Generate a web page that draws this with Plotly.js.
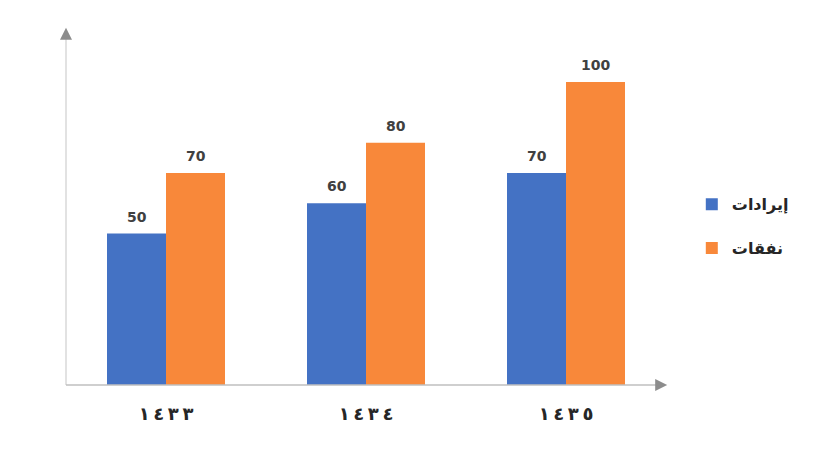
<!DOCTYPE html>
<html>
<head>
<meta charset="utf-8">
<script src="https://cdn.plot.ly/plotly-3.0.1.min.js"></script>
<style>html,body{margin:0;padding:0;background:#fff;}#chart{width:830px;height:468px;}</style>
</head>
<body>
<div id="chart"></div>
<script>
var categories = ["١٤٣٣", "١٤٣٤", "١٤٣٥"];
var seriesNames = ["إيرادات", "نفقات"];
var revenues = [50, 60, 70];
var expenses = [70, 80, 100];
var colors = ["#4472C4", "#F8883A"];

var font = "DejaVu Sans, Arial, sans-serif";
var seriesVals = [revenues, expenses];

var traces = seriesVals.map(function (vals, i) {
  return {
    type: "bar",
    x: categories,
    y: vals,
    name: seriesNames[i],
    legendgroup: "g" + i,
    marker: {color: colors[i]}
  };
});

var annotations = [];
seriesVals.forEach(function (vals, i) {
  vals.forEach(function (v, j) {
    annotations.push({
      x: categories[j], y: v, xref: "x", yref: "y",
      xshift: i === 0 ? -29.5 : 29.5, yshift: 7,
      yanchor: "bottom", showarrow: false,
      text: String(v),
      font: {family: font, size: 14, color: "#404040", weight: "bold"}
    });
  });
});

// axis arrowheads
annotations.push({xref: "paper", yref: "paper", x: 0, y: 1.006, ax: 0, ay: 12, axref: "pixel", ayref: "pixel",
  text: "", showarrow: true, arrowhead: 2, arrowsize: 1.6, arrowwidth: 1.5, arrowcolor: "#8c8c8c"});
annotations.push({xref: "paper", yref: "paper", x: 1.002, y: 0, ax: -12, ay: 0, axref: "pixel", ayref: "pixel",
  text: "", showarrow: true, arrowhead: 2, arrowsize: 1.6, arrowwidth: 1.5, arrowcolor: "#8c8c8c"});

// spaced digits, forced left-to-right
var tickText = categories.map(function (c) { return "\u202D" + c.split("").join("\u2009") + "\u202C"; });

var layout = {
  width: 830, height: 468,
  margin: {l: 66, r: 164, t: 30, b: 83},
  paper_bgcolor: "#fff", plot_bgcolor: "#fff",
  barmode: "group",
  bargap: 0.41,
  bargroupgap: 0,
  showlegend: true,
  legend: {
    x: 1.043, y: 0.557, xanchor: "left", yanchor: "top",
    traceorder: "grouped", tracegroupgap: 20,
    font: {family: font, size: 16, color: "#262626", weight: "bold"},
    itemwidth: 30
  },
  xaxis: {
    type: "category",
    range: [-0.5, 2.5],
    tickvals: categories, ticktext: tickText,
    showline: false, showgrid: false, zeroline: false,
    ticks: "", ticklen: 0, ticklabelstandoff: 16,
    tickfont: {family: font, size: 18, color: "#262626", weight: "bold"}
  },
  yaxis: {
    range: [0, 117.2],
    showline: false, showgrid: false, zeroline: false,
    showticklabels: false, ticks: ""
  },
  shapes: [
    {type: "line", xref: "paper", yref: "paper", x0: 0, x1: 0, y0: 0, y1: 0.98,
     line: {color: "#d9d9d9", width: 1.5}},
    {type: "line", xref: "paper", yref: "paper", x0: 0, x1: 0.985, y0: 0, y1: 0,
     line: {color: "#bfbfbf", width: 1.5}}
  ],
  annotations: annotations
};

Plotly.newPlot("chart", traces, layout, {displayModeBar: false, staticPlot: true});
</script>
</body>
</html>
